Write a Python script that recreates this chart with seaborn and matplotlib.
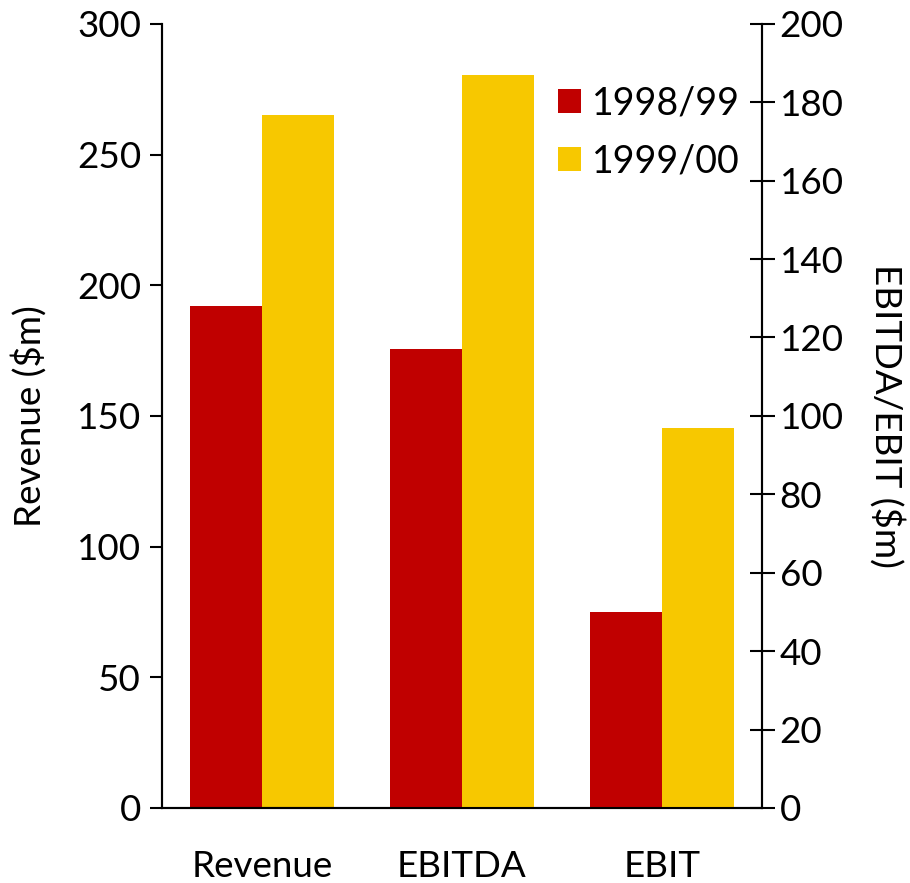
import matplotlib
matplotlib.use("Agg")
import matplotlib.pyplot as plt
import seaborn as sns
import pandas as pd
from matplotlib.ticker import FixedLocator, MultipleLocator

categories = ["Revenue", "EBITDA", "EBIT"]
years = ["1998/99", "1999/00"]
values_9899 = [192, 117, 50]
values_9900 = [265, 187, 97]
colors = ["#C00000", "#F7C800"]

df = pd.DataFrame({
    "metric": categories * 2,
    "year": [years[0]] * 3 + [years[1]] * 3,
    "value": values_9899 + values_9900,
})
left_df = df[df["metric"] == "Revenue"]
right_df = df[df["metric"] != "Revenue"]

sns.set_style("white")
plt.rcParams['font.family'] = ['Lato', 'DejaVu Sans']
plt.rcParams['text.color'] = 'black'
plt.rcParams['axes.labelcolor'] = 'black'
plt.rcParams['xtick.color'] = 'black'
plt.rcParams['ytick.color'] = 'black'
FS = 26.5

fig = plt.figure(figsize=(9.10, 8.83), dpi=100)
ax = fig.add_axes([0.178, 0.085, 0.659, 0.888])
ax2 = ax.twinx()

sns.barplot(data=left_df, x="metric", y="value", hue="year", order=categories,
            hue_order=years, palette=colors, width=0.72, ax=ax, saturation=1,
            legend=False, linewidth=0)
sns.barplot(data=right_df, x="metric", y="value", hue="year", order=categories,
            hue_order=years, palette=colors, width=0.72, ax=ax2, saturation=1,
            linewidth=0)

ax.set_xlim(-0.5, 2.5)
ax.set_ylim(0, 300)
ax2.set_ylim(0, 200)
ax.yaxis.set_major_locator(MultipleLocator(50))
ax2.yaxis.set_major_locator(MultipleLocator(20))

for a in (ax, ax2):
    a.spines["top"].set_visible(False)
    for s in ("left", "right", "bottom"):
        a.spines[s].set_linewidth(1.5)
        a.spines[s].set_color("black")

ax.set_xticks(range(len(categories)))
ax.set_xticklabels(categories, fontsize=FS)
ax.xaxis.set_minor_locator(FixedLocator([-0.5, 0.5, 1.5, 2.5]))
ax.tick_params(axis="x", which="major", length=0, pad=30)
ax.tick_params(axis="x", which="minor", length=12, width=1.5, direction="out", color="black")
ax.tick_params(axis="y", which="major", length=9, width=1.5, direction="out",
               labelsize=FS, color="black", pad=6, left=True)
ax2.tick_params(axis="y", which="major", length=18, width=1.5, direction="inout",
                labelsize=FS, color="black", pad=4, right=True)

ax.set_xlabel("")
ax.set_ylabel("Revenue ($m)", fontsize=FS, labelpad=22)
ax2.set_xlabel("")
ax2.set_ylabel("EBITDA/EBIT ($m)", fontsize=FS, rotation=270, labelpad=44)

leg = ax2.legend(loc="upper right", bbox_to_anchor=(1.02, 0.965), frameon=False,
                 fontsize=27, handlelength=0.6, handleheight=0.6,
                 handletextpad=0.3, labelspacing=0.6)

fig.savefig("out.png", dpi=100)
